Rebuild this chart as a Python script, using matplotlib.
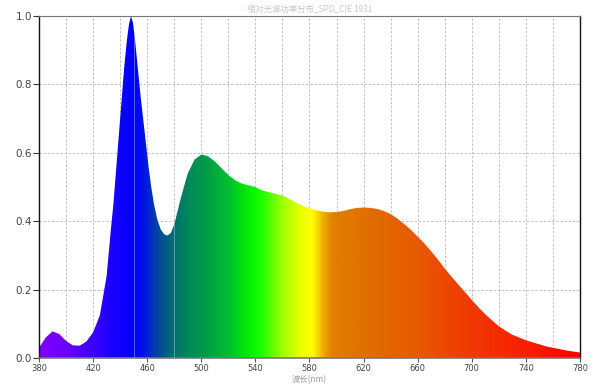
import numpy as np
import matplotlib
matplotlib.use("Agg")
import matplotlib.pyplot as plt
from matplotlib.colors import LinearSegmentedColormap, Normalize
from matplotlib.patches import Polygon

plt.rcParams['font.family'] = ['DejaVu Sans']

# Relative spectral power
wavelength = [380, 385, 390, 395, 400, 405, 410, 415, 420, 425, 430, 433, 435, 437,
              439, 441, 443, 445, 446.5, 448, 449.5, 451, 453, 455, 457, 459, 461,
              463, 465, 467.5, 470, 472.5, 475, 477.5, 480, 482.5, 485, 490, 495,
              500, 505, 510, 515, 520, 525, 530, 535, 540, 545, 550, 555, 560, 565,
              570, 575, 580, 585, 590, 595, 600, 605, 610, 615, 620, 625, 630, 635,
              640, 645, 650, 655, 660, 665, 670, 675, 680, 685, 690, 695, 700, 705,
              710, 715, 720, 725, 730, 735, 740, 745, 750, 755, 760, 765, 770, 775,
              780]
relative = [0.030, 0.060, 0.078, 0.070, 0.050, 0.037, 0.036, 0.048, 0.075, 0.125,
            0.240, 0.370, 0.450, 0.550, 0.650, 0.750, 0.850, 0.930, 0.975, 1.000,
            0.980, 0.930, 0.850, 0.770, 0.700, 0.630, 0.560, 0.500, 0.450, 0.405,
            0.376, 0.362, 0.358, 0.366, 0.390, 0.430, 0.470, 0.540, 0.580, 0.595,
            0.590, 0.575, 0.555, 0.535, 0.520, 0.510, 0.505, 0.500, 0.490, 0.485,
            0.480, 0.475, 0.465, 0.455, 0.445, 0.438, 0.432, 0.428, 0.426, 0.427,
            0.430, 0.435, 0.439, 0.440, 0.439, 0.436, 0.430, 0.421, 0.408, 0.392,
            0.375, 0.355, 0.335, 0.312, 0.288, 0.262, 0.238, 0.215, 0.193, 0.170,
            0.148, 0.128, 0.110, 0.093, 0.080, 0.068, 0.060, 0.052, 0.046, 0.040,
            0.034, 0.030, 0.026, 0.022, 0.019, 0.016]

x_ticks = [380, 420, 460, 500, 540, 580, 620, 660, 700, 740, 780]
y_ticks = [0.0, 0.2, 0.4, 0.6, 0.8, 1.0]
marker_lines = [450, 480]

# colour of the fill as a function of wavelength
spec_stops = [(380, "#8000ff"), (400, "#6a00ff"), (420, "#3a00ff"), (440, "#0c00ff"),
              (450, "#0000ff"), (458, "#0018e0"), (466, "#0040a8"), (474, "#006080"),
              (480, "#007070"), (490, "#00885a"), (502, "#009a48"), (520, "#00c030"),
              (535, "#00f000"), (545, "#20ff00"), (560, "#a0ff00"), (575, "#eeff00"),
              (582, "#ffff00"), (590, "#f0b000"), (597, "#e08000"), (620, "#e07000"),
              (660, "#e85a00"), (700, "#f03800"), (740, "#f82000"), (780, "#ff0000")]
spec_cmap = LinearSegmentedColormap.from_list(
    "spec", [((w - 380) / 400, c) for w, c in spec_stops])

fig = plt.figure(figsize=(6.04, 3.86), dpi=100)
ax = fig.add_axes([0.0646, 0.0725, 0.8955, 0.886])

ax.set_xlim(380, 780)
ax.set_ylim(0, 1)

# grid
ax.set_xticks(np.arange(380, 781, 20), minor=True)
ax.grid(True, which="both", axis="x", color="#b8b8b8", linestyle=(0, (3, 2)), lw=0.6)
ax.grid(True, which="major", axis="y", color="#b8b8b8", linestyle=(0, (3, 2)), lw=0.6)
ax.set_axisbelow(True)

# spectrum fill: gradient image clipped to the curve
verts = np.column_stack([[wavelength[0]] + wavelength + [wavelength[-1]],
                         [0] + relative + [0]])
outline = Polygon(verts, closed=True, facecolor="none", edgecolor="none")
ax.add_patch(outline)
grad = np.linspace(380, 780, 1000)[np.newaxis, :]
img = ax.imshow(grad, extent=[380, 780, 0, 1], aspect="auto", cmap=spec_cmap,
                norm=Normalize(380, 780), origin="lower", zorder=2,
                interpolation="bilinear")
img.set_clip_path(outline)

for w in marker_lines:
    ln = ax.axvline(w, color="white", alpha=0.35, lw=0.7, zorder=3)
    ln.set_clip_path(outline)

ax.set_xticks(x_ticks)
ax.set_yticks(y_ticks)
ax.set_yticklabels([f"{v:.1f}" for v in y_ticks])
ax.tick_params(axis="x", which="major", labelsize=6, colors="#555555", length=3,
               pad=1, labelcolor="#444444")
ax.tick_params(axis="x", which="minor", length=0)
ax.tick_params(axis="y", labelsize=7.5, colors="#333333", length=4, pad=1,
               labelcolor="#444444")

for side in ["left", "right"]:
    ax.spines[side].set_color("#111111")
    ax.spines[side].set_linewidth(1.0)
ax.spines["top"].set_color("#777777")
ax.spines["bottom"].set_color("#777777")
ax.spines["bottom"].set_linewidth(1.2)

ax.set_xlabel("波长(nm)", fontsize=6, color="#999999", labelpad=2,
              family=["Noto Sans CJK SC", "DejaVu Sans"])
ax.set_title("相对光谱功率分布_SPD_CIE 1931", fontsize=6, color="#c8c8c8", pad=3,
             family=["Noto Sans CJK SC", "DejaVu Sans"])

fig.savefig("out.png", dpi=100)
